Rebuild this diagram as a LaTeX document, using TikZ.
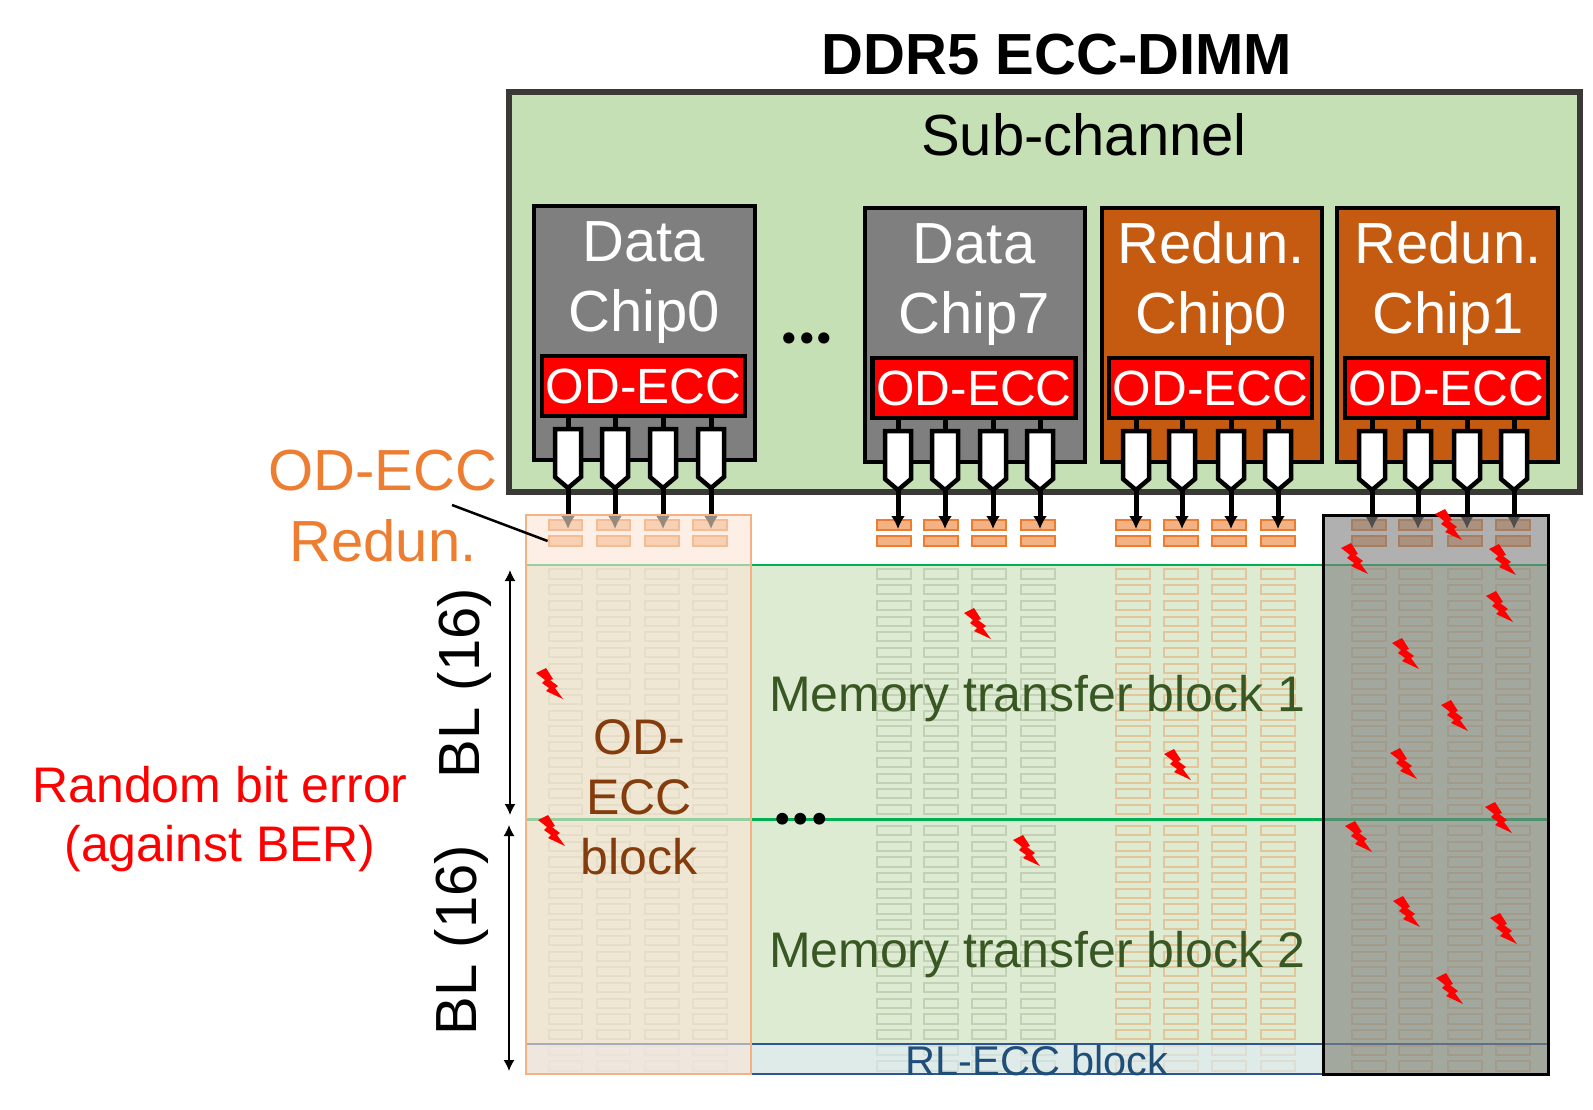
\documentclass[tikz,border=0pt]{standalone}
\usepackage{fontspec}
\setmainfont{Liberation Sans}
\newfontfamily\dotfont{Lato}
\usetikzlibrary{arrows.meta}
\definecolor{subgreen}{HTML}{C5E0B4}
\definecolor{blockgreen}{HTML}{DEEBD3}
\definecolor{framegray}{HTML}{3B3838}
\definecolor{chipgray}{HTML}{7F7F7F}
\definecolor{chiporange}{HTML}{C55A11}
\definecolor{cellorange}{HTML}{ED7D31}
\definecolor{cellfill}{HTML}{F4B183}
\definecolor{celldata}{HTML}{C2D1B4}
\definecolor{cellredun}{HTML}{E2C69A}
\definecolor{linegreen}{HTML}{00B050}
\definecolor{lineblue}{HTML}{2F5597}
\definecolor{textgreen}{HTML}{385723}
\definecolor{textbrown}{HTML}{843C0C}
\definecolor{textblue}{HTML}{1F4E79}
\definecolor{rlblue}{HTML}{DEEBF7}
\definecolor{oeccfill}{HTML}{FBE5D6}
\tikzset{
  chipbox/.style={draw=black,line width=4.5pt,minimum height=254pt,inner sep=0pt},
  chiptext/.style={text=white,align=center,font=\fontsize{58}{70}\selectfont},
  eccbox/.style={draw=black,fill=red,line width=4.5pt,text=white,minimum width=203pt,minimum height=60pt,inner sep=0pt,font=\fontsize{49.5}{60}\selectfont},
  wire/.style={draw=black,line width=5pt},
  pinbody/.style={draw=black,fill=white,line width=4.5pt},
  topcell/.style={draw=cellorange,fill=cellfill,line width=2.3pt,minimum width=33.5pt,minimum height=9.5pt,inner sep=0pt},
  datacell/.style={draw=celldata,line width=2pt,minimum width=33.5pt,minimum height=9.2pt,inner sep=0pt},
  redcell/.style={draw=cellredun,line width=2pt,minimum width=33.5pt,minimum height=9.2pt,inner sep=0pt},
  bigtext/.style={font=\fontsize{58}{70}\selectfont},
  midtext/.style={font=\fontsize{50}{60}\selectfont},
  burst/.style={draw=black,line width=1.5pt,{Latex[length=11pt,width=11pt]}-{Latex[length=11pt,width=11pt]}}
}
\begin{document}
\begin{tikzpicture}[x=1pt,y=-1pt]
  \useasboundingbox (0,0) rectangle (1593,1110);

  \node[font=\fontsize{58}{70}\selectfont\bfseries] (title) at (1057,55) {DDR5 ECC-DIMM};
  \node[draw=framegray,fill=subgreen,line width=6pt,minimum width=1071pt,minimum height=400pt,inner sep=0pt] (subch) at (1044.5,292) {};
  \node[bigtext] (subname) at (1084,135) {Sub-channel};

  % chips
  \node[chipbox,fill=chipgray,minimum width=221pt] (chipA) at (644.5,333) {};
  \node[chipbox,fill=chipgray,minimum width=220pt] (chipB) at (975,335) {};
  \node[chipbox,fill=chiporange,minimum width=220pt] (chipC) at (1212,335) {};
  \node[chipbox,fill=chiporange,minimum width=221pt] (chipD) at (1447.5,335) {};

  \node[chiptext] (nameA) at (644,283) {Data\\Chip0};
  \node[chiptext] (nameB) at (974,285) {Data\\Chip7};
  \node[chiptext] (nameC) at (1211,284) {Redun.\\Chip0};
  \node[chiptext] (nameD) at (1448,284) {Redun.\\Chip1};

  \node[eccbox] (eccA) at (643.5,386) {OD-ECC};
  \node[eccbox] (eccB) at (974,388) {OD-ECC};
  \node[eccbox] (eccC) at (1210.5,388) {OD-ECC};
  \node[eccbox] (eccD) at (1446.5,388) {OD-ECC};

  \node[font=\dotfont\fontsize{74}{80}\selectfont\bfseries,anchor=base] (moreA) at (807,343) {...};

  % memory block and its cells
  \fill[blockgreen] (526,565) rectangle (1548,1074);
  \draw[linegreen,line width=2.5pt] (526,565) -- (1548,565);
  \draw[linegreen,line width=3pt] (526,819) -- (1548,819);

  \foreach \c/\st/\cols in {A/datacell/{565.5,613.5,662,710},B/datacell/{894,941,989,1038},C/redcell/{1133,1181,1229,1278},D/redcell/{1369,1415.5,1465,1513}}{
    \foreach \cx [count=\n] in \cols {
      \node[topcell] (top\c\n a) at (\cx,525) {};
      \node[topcell] (top\c\n b) at (\cx,541) {};
      \foreach \r in {0,...,15}{
        \node[\st] (cell\c\n u\r) at (\cx,{574+15.7*\r}) {};
        \node[\st] (cell\c\n v\r) at (\cx,{830.5+15.7*\r}) {};
      }
    }
  }

  % pins
  \foreach \c/\ytop/\pinlist in {A/429/{568,615,663,711},B/431/{898,945,993,1040},C/431/{1136,1182,1231,1278},D/431/{1372,1418,1467,1514}}{
    \foreach \px [count=\n] in \pinlist {
      \coordinate (pin\c\n) at (\px,\ytop);
      \coordinate (tip\c\n) at (\px,{\ytop+59});
      \coordinate (end\c\n) at (\px,529);
      \draw[wire] (ecc\c.south -| pin\c\n) -- (pin\c\n);
      \draw[pinbody] ({\px-13},\ytop) -- ({\px+13},\ytop) -- ({\px+13},{\ytop+48}) -- (tip\c\n) -- ({\px-13},{\ytop+48}) -- cycle;
      \draw[wire,-{Latex[length=13pt,width=14pt]}] (tip\c\n) -- (end\c\n);
    }
  }

  % overlays
  \fill[rlblue,opacity=.6] (526,1044) rectangle (1323,1074);
  \draw[lineblue,line width=2.5pt] (526,1044) -- (1548,1044);
  \draw[lineblue,line width=2.5pt] (526,1074) -- (1323,1074);
  \node[draw=cellfill,fill=oeccfill,fill opacity=.6,line width=2.5pt,minimum width=225pt,minimum height=559pt,inner sep=0pt] (oecc) at (638.5,794.5) {};
  \node[draw=black,fill=chipgray,fill opacity=.62,line width=3pt,minimum width=225pt,minimum height=559pt,inner sep=0pt] (dead) at (1435.5,794.5) {};

  % labels
  \node[midtext,color=textgreen,anchor=base west] (mtbA) at (765.5,711) {Memory transfer block 1};
  \node[midtext,color=textgreen,anchor=base west] (mtbB) at (765.5,967) {Memory transfer block 2};
  \node[color=textblue,anchor=base,font=\fontsize{41.5}{50}\selectfont] (rlecc) at (1037,1075) {RL-ECC block};
  \node[midtext,color=textbrown,align=center] (oeccname) at (639,797) {OD-\\ECC\\block};
  \node[font=\dotfont\fontsize{78}{90}\selectfont\bfseries,anchor=base] (moreB) at (801,824) {...};

  \node[bigtext,color=cellorange] (redunA) at (383,471) {OD-ECC};
  \node[bigtext,color=cellorange] (redunB) at (383,541) {Redun.};
  \draw[black,line width=2.5pt] (452,505) -- (topA1b.west);

  \node[midtext,color=red] (errA) at (220,785) {Random bit error};
  \node[midtext,color=red] (errB) at (220,849) {(against BER)};

  \coordinate (blA) at (510,570);
  \coordinate (blB) at (510,815);
  \coordinate (blC) at (509,825);
  \coordinate (blD) at (509,1071);
  \draw[burst] (blA) -- (blB);
  \draw[burst] (blC) -- (blD);
  \node[bigtext,rotate=90] (lenA) at (464,683) {BL (16)};
  \node[bigtext,rotate=90] (lenB) at (461,940) {BL (16)};

  % random errors
  \foreach \bx/\by in {1435/509,1341/543,1489/544,1486/591,1392/638,1441/700,1390/748,964/608,536/668,1164/749,538/815,1013/835,1485/802,1345/821,1393/896,1490/913,1436/973}{
    \fill[red,shift={(\bx,\by)}] (0,5) -- (10,0) -- (17,11) -- (14,12) -- (22,18) -- (19,20) -- (27,31) -- (10,23) -- (13,20) -- (6,15) -- (9,12) -- cycle;
  }
\end{tikzpicture}
\end{document}
